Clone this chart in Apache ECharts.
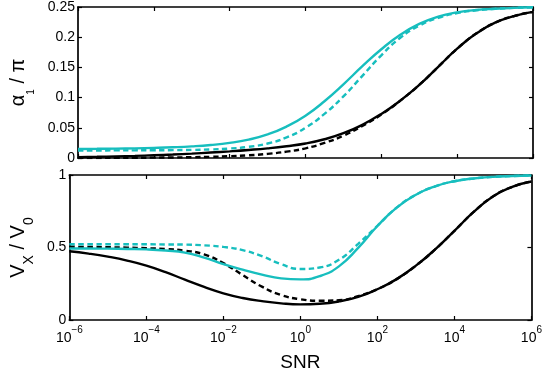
<!DOCTYPE html>
<html>
<head>
<meta charset="utf-8">
<script src="https://cdn.jsdelivr.net/npm/echarts@6/dist/echarts.min.js"></script>
<style>html,body{margin:0;padding:0;background:#fff;}#c{width:545px;height:373px;}</style>
</head>
<body>
<div id="c"></div>
<script>
// log10(SNR) sample positions
var logSNR = [-6,-5.5,-5,-4.5,-4,-3.5,-3,-2.5,-2,-1.5,-1,-0.5,0,0.5,1,1.5,2,2.5,3,3.5,4,4.5,5,5.5,6];

// top panel: alpha_1 / pi
var alphaCyanSolid  = [0.0150,0.0152,0.0155,0.0160,0.0167,0.0177,0.0192,0.0215,0.0250,0.0305,0.039,0.052,0.070,0.094,0.122,0.152,0.180,0.204,0.222,0.234,0.241,0.245,0.247,0.2485,0.2495];
var alphaCyanDashed = [0.0125,0.0125,0.0126,0.0127,0.0128,0.0130,0.0134,0.0142,0.0157,0.0185,0.024,0.034,0.050,0.073,0.102,0.136,0.170,0.199,0.219,0.232,0.240,0.2445,0.247,0.2485,0.2495];
var alphaBlackSolid = [0.0015,0.0020,0.0027,0.0035,0.0045,0.0057,0.0072,0.0090,0.0110,0.0133,0.016,0.0195,0.024,0.031,0.041,0.055,0.073,0.095,0.121,0.151,0.181,0.206,0.224,0.235,0.242];
var alphaBlackDashed= [0.0000,0.0001,0.0002,0.0004,0.0006,0.0009,0.0013,0.0020,0.0030,0.0045,0.0068,0.0105,0.016,0.025,0.037,0.053,0.072,0.095,0.121,0.151,0.181,0.206,0.224,0.235,0.242];

// bottom panel: V_X / V_0
var vCyanSolid  = [0.493,0.493,0.492,0.490,0.487,0.479,0.465,0.430,0.385,0.347,0.313,0.287,0.280,0.302,0.370,0.497,0.648,0.775,0.864,0.922,0.957,0.976,0.987,0.993,0.997];
var vCyanDashed = [0.522,0.522,0.522,0.522,0.522,0.521,0.520,0.515,0.504,0.482,0.440,0.385,0.352,0.362,0.415,0.525,0.650,0.775,0.864,0.922,0.957,0.976,0.987,0.993,0.997];
var vBlackSolid = [0.474,0.458,0.437,0.410,0.375,0.330,0.278,0.228,0.184,0.152,0.130,0.115,0.108,0.112,0.128,0.160,0.212,0.282,0.375,0.487,0.615,0.745,0.852,0.918,0.955];
var vBlackDashed= [0.505,0.504,0.502,0.499,0.495,0.489,0.478,0.452,0.392,0.310,0.230,0.172,0.143,0.133,0.136,0.165,0.213,0.282,0.375,0.487,0.615,0.745,0.852,0.918,0.955];

var CYAN = '#17BEBE';
var FONT = 'Liberation Sans, Arial, Helvetica, sans-serif';

function pairs(ys){ return logSNR.map(function(x,i){ return [x, ys[i]]; }); }

function mkSeries(ys, color, dashed, xi, yi, z){
  return {
    type: 'line', xAxisIndex: xi, yAxisIndex: yi, data: pairs(ys),
    showSymbol: false, smooth: 0.5, z: z,
    lineStyle: { color: color, width: 2.4, type: dashed ? [5.5,3.5] : 'solid' },
    emphasis: { disabled: true }, silent: true, animation: false
  };
}

var supRich = {
  b: { fontSize: 14, fontFamily: FONT, color: '#000', lineHeight: 20, verticalAlign: 'bottom' },
  s: { fontSize: 10, fontFamily: FONT, color: '#000', lineHeight: 10, verticalAlign: 'top' }
};

function xAxisCfg(gi, showLabels, pos){
  return {
    type: 'value', gridIndex: gi, min: -6, max: 6, interval: 2, position: pos,
    axisLine: { show: true, onZero: false, lineStyle: { color: '#000', width: 1.7 } },
    axisTick: { show: true, inside: true, length: 4, lineStyle: { color: '#000', width: 1.2 } },
    splitLine: { show: false },
    axisLabel: showLabels ? {
      show: true, margin: 5, showMaxLabel: true, showMinLabel: true,
      formatter: function(v){ return '{b|10}{s|' + (v < 0 ? '\u2212' + (-v) : v) + '}'; },
      rich: supRich
    } : { show: false }
  };
}

function yAxisCfg(gi, max, interval, pos, showLabels, name, nameGap, rich){
  var a = {
    type: 'value', gridIndex: gi, min: 0, max: max, interval: interval, position: pos,
    axisLine: { show: true, onZero: false, lineStyle: { color: '#000', width: 1.7 } },
    axisTick: { show: true, inside: true, length: 4, lineStyle: { color: '#000', width: 1.2 } },
    splitLine: { show: false },
    axisLabel: showLabels ? { show: true, margin: 3, color: '#000', fontSize: 14, fontFamily: FONT } : { show: false }
  };
  if (name) {
    a.name = name; a.nameLocation = 'middle'; a.nameRotate = 90; a.nameGap = nameGap;
    a.nameTextStyle = { rich: rich };
  }
  return a;
}

var alphaRich = {
  a: { fontSize: 20, fontFamily: FONT, color: '#000', lineHeight: 28, verticalAlign: 'top' },
  s: { fontSize: 10, fontFamily: FONT, color: '#000', lineHeight: 10, verticalAlign: 'bottom' }
};
var vRich = {
  a: { fontSize: 20, fontFamily: FONT, color: '#000', lineHeight: 28, verticalAlign: 'top' },
  s: { fontSize: 14, fontFamily: FONT, color: '#000', lineHeight: 12, verticalAlign: 'bottom' }
};

var chart = echarts.init(document.getElementById('c'), null, { renderer: 'canvas' });
chart.setOption({
  animation: false,
  backgroundColor: '#fff',
  textStyle: { fontFamily: FONT },
  grid: [
    { left: 64, right: 12, top: 5, height: 153 },
    { left: 64, right: 12, top: 175, height: 151 }
  ],
  xAxis: [
    xAxisCfg(0, false, 'bottom'),
    xAxisCfg(0, false, 'top'),
    Object.assign(xAxisCfg(1, true, 'bottom'), {
      name: 'SNR', nameLocation: 'middle', nameGap: 33,
      nameTextStyle: { fontSize: 19, fontFamily: FONT, color: '#000' }
    }),
    xAxisCfg(1, false, 'top')
  ],
  yAxis: [
    yAxisCfg(0, 0.25, 0.05, 'left', true, '{a|\u03b1}{s|1}{a| / \u03c0}', 42, alphaRich),
    yAxisCfg(0, 0.25, 0.05, 'right', false),
    yAxisCfg(1, 1, 0.5, 'left', true, '{a|V}{s|X}{a| / V}{s|0}', 32, vRich),
    yAxisCfg(1, 1, 0.5, 'right', false)
  ],
  series: [
    mkSeries(alphaBlackDashed, '#000', true, 0, 0, 2),
    mkSeries(alphaBlackSolid, '#000', false, 0, 0, 3),
    mkSeries(alphaCyanDashed, CYAN, true, 0, 0, 4),
    mkSeries(alphaCyanSolid, CYAN, false, 0, 0, 5),
    mkSeries(vBlackDashed, '#000', true, 2, 2, 2),
    mkSeries(vBlackSolid, '#000', false, 2, 2, 3),
    mkSeries(vCyanDashed, CYAN, true, 2, 2, 4),
    mkSeries(vCyanSolid, CYAN, false, 2, 2, 5)
  ]
});
</script>
</body>
</html>
